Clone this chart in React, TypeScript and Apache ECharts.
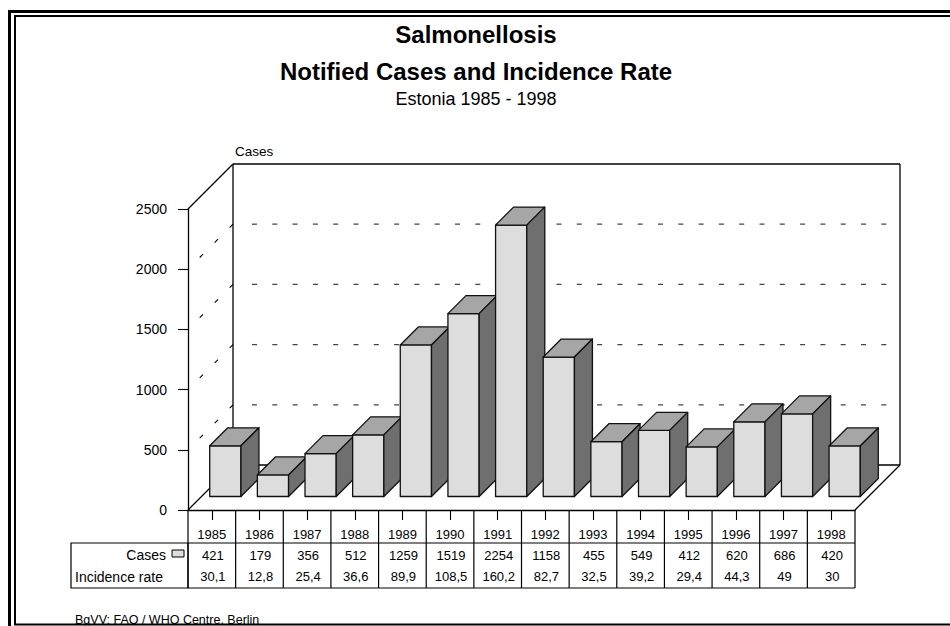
import React, { useEffect, useRef } from 'react';
import * as echarts from 'echarts';

// ---------- data ----------
const years = ['1985', '1986', '1987', '1988', '1989', '1990', '1991', '1992', '1993', '1994', '1995', '1996', '1997', '1998'];
const cases = [421, 179, 356, 512, 1259, 1519, 2254, 1158, 455, 549, 412, 620, 686, 420];
const incidenceRate = [30.1, 12.8, 25.4, 36.6, 89.9, 108.5, 160.2, 82.7, 32.5, 39.2, 29.4, 44.3, 49, 30];
const yTicks = [0, 500, 1000, 1500, 2000, 2500];

const titleLines = ['Salmonellosis', 'Notified Cases and Incidence Rate'];
const subtitle = 'Estonia 1985 - 1998';
const axisName = 'Cases';
const rowLabels = ['Cases', 'Incidence rate'];
const source = 'BgVV; FAO / WHO Centre, Berlin';

// ---------- style constants ----------
const FONT = '"Liberation Sans", Arial, Helvetica, sans-serif';
const DEPTH = 45; // 3D depth of the plot box
const BAR_FRONT = 13.5; // bar front offset into depth
const BAR_DEPTH = 18; // bar depth
const ROW_H = [33, 45]; // year row, data rows
const fmt = (v: number) => String(v).replace('.', ',');

export default function App() {
  const ref = useRef<HTMLDivElement>(null);

  useEffect(() => {
    const chart = echarts.init(ref.current as HTMLDivElement, null, { renderer: 'svg' });
    const maxV = yTicks[yTicks.length - 1];

    const wallSeries = {
      type: 'custom',
      z: 1,
      silent: true,
      data: [[0, 0]],
      renderItem: (params: any, api: any) => {
        const cs = params.coordSys;
        const x0 = cs.x;
        const x1 = cs.x + cs.width;
        const yb = api.coord([0, 0])[1];
        const yt = api.coord([0, maxV])[1];
        const D = DEPTH;
        const L = (a: number, b: number, c: number, d: number) => ({
          type: 'line',
          shape: { x1: a, y1: b, x2: c, y2: d },
          style: { stroke: '#000', lineWidth: 1.3 },
        });
        return {
          type: 'group',
          children: [
            L(x0 + D, yt - D, x1 + D, yt - D),
            L(x1 + D, yt - D, x1 + D, yb - D),
            L(x0 + D, yb - D, x1 + D, yb - D),
            L(x0 + D, yt - D, x0 + D, yb - D),
            L(x0, yt, x0 + D, yt - D),
            L(x0, yb, x0 + D, yb - D),
            L(x1, yb, x1 + D, yb - D),
          ],
        };
      },
    };

    const gridSeries = {
      type: 'custom',
      z: 2,
      silent: true,
      data: yTicks.filter((v) => v > 0 && v < maxV).map((v) => [0, v]),
      renderItem: (params: any, api: any) => {
        const cs = params.coordSys;
        const x0 = cs.x;
        const x1 = cs.x + cs.width;
        const y = api.coord([0, api.value(1)])[1];
        const D = DEPTH;
        return {
          type: 'group',
          children: [
            {
              type: 'line',
              shape: { x1: x0 + D + 19, y1: y - D, x2: x1 + D, y2: y - D },
              style: { stroke: '#444', lineWidth: 1.3, lineDash: [5, 15.3] },
            },
            {
              type: 'line',
              shape: { x1: x0 + D, y1: y - D, x2: x0, y2: y },
              style: { stroke: '#000', lineWidth: 1.1, lineDash: [4.7, 16.5] },
            },
          ],
        };
      },
    };

    const barSeries = {
      type: 'custom',
      z: 3,
      silent: true,
      data: cases.map((v, i) => [i, v]),
      encode: { x: 0, y: 1 },
      renderItem: (params: any, api: any) => {
        const i = api.value(0);
        const v = api.value(1);
        const base = api.coord([i, 0]);
        const top = api.coord([i, v]);
        const band = api.size([1, 0])[0];
        const w = band * 0.655;
        const f = BAR_FRONT;
        const d = BAR_DEPTH;
        const xl = base[0] - w / 2 + f;
        const xr = base[0] + w / 2 + f;
        const yb = base[1] - f;
        const yt = top[1] - f;
        const st = (fill: string) => ({ fill, stroke: '#111', lineWidth: 1.3, lineJoin: 'round' });
        return {
          type: 'group',
          children: [
            { type: 'polygon', shape: { points: [[xl, yb], [xr, yb], [xr, yt], [xl, yt]] }, style: st('#dddddd') },
            { type: 'polygon', shape: { points: [[xl, yt], [xr, yt], [xr + d, yt - d], [xl + d, yt - d]] }, style: st('#a6a6a6') },
            { type: 'polygon', shape: { points: [[xr, yb], [xr, yt], [xr + d, yt - d], [xr + d, yb - d]] }, style: st('#6f6f6f') },
          ],
        };
      },
    };

    const tableSeries = {
      type: 'custom',
      z: 4,
      silent: true,
      data: years.map((_, i) => [i, cases[i], incidenceRate[i]]),
      renderItem: (params: any, api: any) => {
        const i = api.value(0);
        const c = api.coord([i, 0]);
        const band = api.size([1, 0])[0];
        const xl = c[0] - band / 2;
        const xr = c[0] + band / 2;
        const y0 = c[1];
        const y1 = y0 + ROW_H[0];
        const y2 = y1 + ROW_H[1];
        const L = (a: number, b: number, cc: number, d: number) => ({
          type: 'line',
          shape: { x1: a, y1: b, x2: cc, y2: d },
          style: { stroke: '#000', lineWidth: 1.2 },
        });
        const T = (text: string, x: number, y: number) => ({
          type: 'text',
          x,
          y,
          style: { text, font: `13px ${FONT}`, fill: '#000', align: 'center', verticalAlign: 'middle' },
        });
        const children: any[] = [
          L(xl, y0, xl, y2),
          L(xl, y1, xr, y1),
          L(xl, y2, xr, y2),
          T(String(api.value(1)), c[0] + 1, y1 + 12),
          T(fmt(api.value(2)), c[0] + 1, y1 + 33.5),
        ];
        if (i === years.length - 1) children.push(L(xr, y0, xr, y2));
        return { type: 'group', children };
      },
    };

    const option = {
      animation: false,
      backgroundColor: '#ffffff',
      grid: { left: 188, top: 209, width: 667, height: 301, containLabel: false },
      xAxis: {
        type: 'category',
        data: years,
        axisLine: { show: true, lineStyle: { color: '#000', width: 1.3 } },
        axisTick: { show: true, alignWithLabel: true, length: 10, lineStyle: { color: '#000', width: 1.1 } },
        axisLabel: { color: '#000', fontSize: 13, fontFamily: FONT, margin: 17.5, interval: 0 },
        splitLine: { show: false },
      },
      yAxis: {
        type: 'value',
        min: 0,
        max: yTicks[yTicks.length - 1],
        interval: 500,
        axisLine: { show: true, lineStyle: { color: '#000', width: 1.3 } },
        axisTick: { show: true, length: 10, lineStyle: { color: '#000', width: 1.1 } },
        axisLabel: { color: '#000', fontSize: 14, fontFamily: FONT, margin: 21, formatter: (v: number) => String(v) },
        splitLine: { show: false },
      },
      series: [wallSeries, gridSeries, barSeries, tableSeries],
      graphic: [
        // titles
        { type: 'text', x: 476, y: 34.5, z: 10, style: { text: titleLines[0], font: `bold 24px ${FONT}`, fill: '#000', align: 'center', verticalAlign: 'middle' } },
        { type: 'text', x: 476, y: 71.5, z: 10, style: { text: titleLines[1], font: `bold 24px ${FONT}`, fill: '#000', align: 'center', verticalAlign: 'middle' } },
        { type: 'text', x: 476, y: 98.5, z: 10, style: { text: subtitle, font: `18px ${FONT}`, fill: '#000', align: 'center', verticalAlign: 'middle' } },
        // axis name
        { type: 'text', x: 235, y: 151, z: 10, style: { text: axisName, font: `13.5px ${FONT}`, fill: '#000', align: 'left', verticalAlign: 'middle' } },
        // table label cell
        { type: 'rect', z: 10, shape: { x: 71, y: 543, width: 117, height: 45 }, style: { fill: 'none', stroke: '#000', lineWidth: 1.2 } },
        { type: 'text', x: 166, y: 555, z: 10, style: { text: rowLabels[0], font: `14px ${FONT}`, fill: '#000', align: 'right', verticalAlign: 'middle' } },
        { type: 'rect', z: 10, shape: { x: 172, y: 550, width: 12, height: 7 }, style: { fill: '#dddddd', stroke: '#000', lineWidth: 1 } },
        { type: 'text', x: 75, y: 576.5, z: 10, style: { text: rowLabels[1], font: `14px ${FONT}`, fill: '#000', align: 'left', verticalAlign: 'middle' } },
        // source
        { type: 'text', x: 75, y: 620, z: 10, style: { text: source, font: `12.5px ${FONT}`, fill: '#000', align: 'left', verticalAlign: 'middle' } },
        { type: 'rect', z: 11, shape: { x: 0, y: 625.5, width: 950, height: 10 }, style: { fill: '#fff' } },
        // frame
        { type: 'rect', z: 12, shape: { x: 9.5, y: 11.5, width: 1000, height: 700 }, style: { fill: 'none', stroke: '#000', lineWidth: 3 } },
        { type: 'rect', z: 12, shape: { x: 15, y: 16, width: 1000, height: 608.5 }, style: { fill: 'none', stroke: '#000', lineWidth: 2 } },
      ],
    };

    chart.setOption(option as any);
    return () => chart.dispose();
  }, []);

  return (
    <div
      ref={ref}
      style={{ position: 'fixed', left: 0, top: 0, width: 950, height: 626, background: '#fff' }}
    />
  );
}
